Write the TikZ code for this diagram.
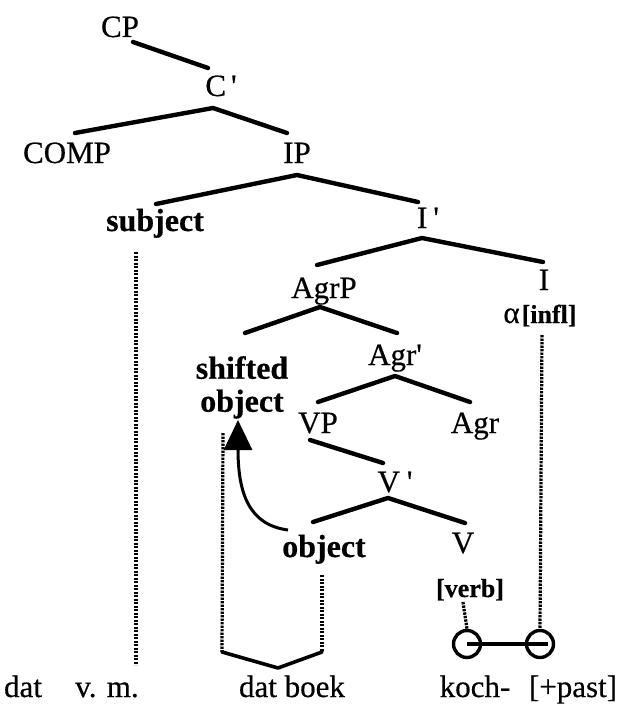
\documentclass[tikz,border=0pt]{standalone}
\usepackage{fontspec}
\setmainfont{Liberation Serif}[Ligatures=TeXOff,FakeBold=0.5,BoldFeatures={FakeBold=0.5}]
\usetikzlibrary{arrows.meta}
\tikzset{
  lbl/.style={anchor=base,inner sep=0pt,font=\fontsize{31}{33}\selectfont},
  blbl/.style={anchor=base,inner sep=0pt,font=\fontsize{32}{33}\selectfont\bfseries},
  smb/.style={anchor=base,inner sep=0pt,font=\fontsize{26}{28}\selectfont\bfseries},
  branch/.style={line width=4.4pt,line cap=round,line join=round},
  assoc/.style={line width=3.2pt,dash pattern=on 2.4pt off 1.1pt},
  tone/.style={circle,draw,line width=3.4pt,minimum size=27pt,inner sep=0pt}
}
\begin{document}
\begin{tikzpicture}[x=1pt,y=-1pt]
\useasboundingbox (0,0) rectangle (629,709);
% labels
\node[lbl] (CP) at (120,37) {CP};
\node[lbl] (Cb) at (221,96) {C\hspace{5pt}'};
\node[lbl] (COMP) at (67,163) {COMP};
\node[lbl] (IP) at (297,163) {IP};
\node[blbl] (subj) at (155,231) {subject};
\node[lbl] (Ib) at (428,228) {I\hspace{6pt}'};
\node[lbl] (AgrP) at (324,298) {AgrP};
\node[lbl] (I) at (544,290) {I};
\node[inner sep=0pt,anchor=base] (infl) at (540,323) {{\fontsize{31}{33}\selectfont α}\hspace{2pt}{\fontsize{26}{28}\selectfont\bfseries [infl]}};
\node[blbl,anchor=north,align=center] (sobj) at (242,356) {shifted\\object};
\node[lbl] (Agrb) at (395,365) {Agr'};
\node[lbl] (VP) at (318,433) {VP};
\node[lbl] (Agr) at (475,433) {Agr};
\node[lbl] (Vb) at (395,492) {V\hspace{7pt}'};
\node[blbl] (obj) at (324,557) {object};
\node[lbl] (V) at (463,553) {V};
\node[smb] (verb) at (470,597) {[verb]};
\node[lbl] (w1) at (23,697) {dat};
\node[lbl] (w2) at (107,697) {v. m.};
\node[lbl] (w3) at (292,697) {dat boek};
\node[lbl] (w4) at (475,697) {koch-};
\node[lbl] (w5) at (573,697) {[+past]};
% branch points
\coordinate (cpA) at (133,42);
\coordinate (cbT) at (208,68);
\coordinate (cbA) at (213,108);
\coordinate (compT) at (75,133);
\coordinate (ipT) at (287,133);
\coordinate (ipA) at (297,175);
\coordinate (subjT) at (156,204);
\coordinate (ibT) at (418,202);
\coordinate (ibA) at (422,238);
\coordinate (agrpT) at (317,265);
\coordinate (iT) at (543,262);
\coordinate (agrpA) at (320,307);
\coordinate (sobjT) at (245,333);
\coordinate (agrbT) at (397,333);
\coordinate (agrbA) at (395,376);
\coordinate (vpT) at (318,402);
\coordinate (agrT) at (470,402);
\coordinate (vpA) at (310,440);
\coordinate (vbT) at (383,463);
\coordinate (vbA) at (388,498);
\coordinate (objT) at (313,522);
\coordinate (vT) at (465,523);
% tree
\draw[branch] (cpA) -- (cbT);
\draw[branch] (compT) -- (cbA) -- (ipT);
\draw[branch] (subjT) -- (ipA) -- (ibT);
\draw[branch] (agrpT) -- (ibA) -- (iT);
\draw[branch] (sobjT) -- (agrpA) -- (agrbT);
\draw[branch] (vpT) -- (agrbA) -- (agrT);
\draw[branch] (vpA) -- (vbT);
\draw[branch] (objT) -- (vbA) -- (vT);
% association lines
\coordinate (subjD) at (136,252);
\coordinate (subjE) at (136,665);
\coordinate (sobjD) at (223,433);
\coordinate (brL) at (222,652);
\coordinate (brM) at (278,668);
\coordinate (brR) at (322,652);
\coordinate (objD) at (322,575);
\coordinate (inflD) at (542,335);
\coordinate (verbD) at (463,602);
\node[tone] (t1) at (467,644) {};
\node[tone] (t2) at (540,644) {};
\draw[assoc] (subjD) -- (subjE);
\draw[assoc] (sobjD) -- (brL);
\draw[assoc] (objD) -- (brR);
\draw[assoc] (inflD) -- (t2.north);
\draw[assoc] (verbD) -- (t1.north);
\draw[branch,line width=3.6pt] (brL) -- (brM) -- (brR);
\draw[line width=3.4pt] (t1.center) -- ([xshift=8pt]t2.center);
% movement arrow
\coordinate (arrS) at (288,530);
\coordinate (arrE) at (238,420);
\draw[line width=3pt,-{Triangle[width=28pt,length=30pt]}] (arrS) .. controls (250,525) and (238,495) .. (arrE);
\end{tikzpicture}
\end{document}
